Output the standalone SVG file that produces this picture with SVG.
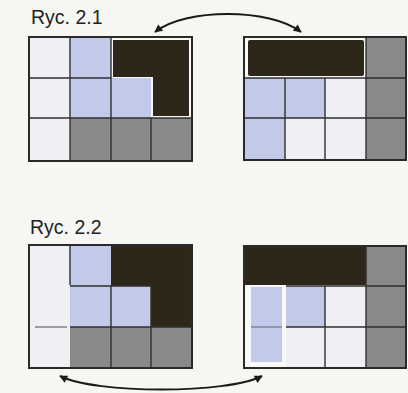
<svg xmlns="http://www.w3.org/2000/svg" width="408" height="393" viewBox="0 0 408 393">
<defs>
<style>
.w{fill:#eef0f4}
.b{fill:#c3c9e8}
.k{fill:#2c2719}
.g{fill:#898989}
.ln{stroke:#2f2f2f;stroke-width:1.4;fill:none}
.fr{stroke:#2a2a2a;stroke-width:2;fill:none}
.lab{font-family:"Liberation Sans",Arial,sans-serif;font-size:19.5px;fill:#222}
.arr{stroke:#1a1a1a;stroke-width:2;fill:none}
</style>
<marker id="ah" viewBox="0 0 10 10" refX="9" refY="5" markerWidth="10" markerHeight="8" markerUnits="userSpaceOnUse" orient="auto-start-reverse">
<path d="M0,0 L10,5 L0,10 Z" fill="#1a1a1a"/>
</marker>
</defs>
<rect width="408" height="393" fill="#f6f6f3"/>

<text class="lab" x="31" y="24">Ryc. 2.1</text>
<text class="lab" x="30" y="234">Ryc. 2.2</text>

<g id="grid-2-1-left">
<rect class="w" x="29" y="37" width="41" height="124"/>
<rect class="b" x="70" y="37" width="41" height="81"/>
<rect class="b" x="111" y="78" width="40" height="40"/>
<rect class="g" x="70" y="118" width="122" height="43"/>
<rect fill="#f8f8f6" x="111" y="37" width="81" height="41"/>
<rect fill="#f8f8f6" x="151" y="78" width="41" height="40"/>
<path class="ln" d="M70,37V161 M111,37V161 M151,118V161 M29,78H111 M29,118H192"/>
<path class="k" d="M113,40H189V116H153V77H113Z"/>
<rect class="fr" x="29" y="37" width="163" height="124"/>
</g>

<g id="grid-2-1-right">
<rect class="b" x="244" y="78" width="41" height="82"/>
<rect class="b" x="285" y="78" width="40" height="40"/>
<rect class="w" x="285" y="118" width="81" height="42"/>
<rect class="w" x="325" y="78" width="41" height="40"/>
<rect class="g" x="366" y="37" width="40" height="123"/>
<rect fill="#f8f8f6" x="244" y="37" width="122" height="41"/>
<path class="ln" d="M285,78V160 M325,78V160 M366,37V160 M244,78H406 M244,118H406"/>
<rect class="k" x="248" y="40" width="116" height="36" rx="2"/>
<rect class="fr" x="244" y="37" width="162" height="123"/>
</g>

<g id="grid-2-2-left">
<rect class="w" x="29" y="245" width="41" height="123"/>
<rect class="b" x="70" y="245" width="41" height="82"/>
<rect class="b" x="111" y="286" width="40" height="41"/>
<rect class="k" x="111" y="245" width="81" height="41"/>
<rect class="k" x="151" y="286" width="41" height="41"/>
<rect class="g" x="70" y="327" width="122" height="41"/>
<path class="ln" d="M70,245V285 M70,286H151 M111,286V368 M151,286V368 M70,327H192"/>
<path d="M35,327H67" stroke="#6e6e6e" stroke-width="1.3"/>
<rect class="fr" x="29" y="245" width="163" height="123"/>
</g>

<g id="grid-2-2-right">
<rect class="k" x="244" y="246" width="122" height="39"/>
<rect class="g" x="366" y="246" width="40" height="122"/>
<rect fill="#f8f8f6" x="244" y="285" width="42" height="83"/>
<rect class="b" x="286" y="286" width="39" height="41"/>
<rect class="w" x="286" y="327" width="80" height="41"/>
<rect class="w" x="325" y="286" width="41" height="41"/>
<path class="ln" d="M325,286V368 M366,246V368 M286,286H406 M286,327H406"/>
<rect class="b" x="251" y="287" width="31" height="75"/>
<path d="M251,327H282" stroke="#7b7f96" stroke-width="1.4"/>
<rect class="fr" x="244" y="246" width="162" height="122"/>
</g>

<g id="connectors">
<path class="arr" d="M155,32 C185,8 270,8 301,32" marker-start="url(#ah)" marker-end="url(#ah)"/>
<path class="arr" d="M60,376 C95,394 228,394 262,376" marker-start="url(#ah)" marker-end="url(#ah)"/>
</g>
</svg>
